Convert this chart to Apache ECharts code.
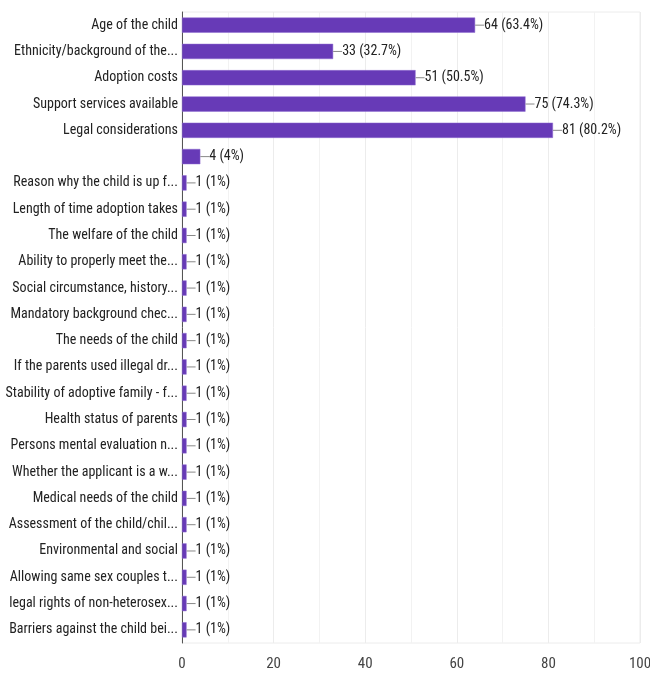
<!DOCTYPE html>
<html>
<head>
<meta charset="utf-8">
<script src="https://cdn.jsdelivr.net/npm/echarts@6/dist/echarts.min.js"></script>
<style>
  html, body { margin: 0; padding: 0; background: #fff; }
  #chart { width: 650px; height: 675px; }
</style>
</head>
<body>
<div id="chart"></div>
<script>
// Answer options, top to bottom
const categories = [
  'Age of the child',
  'Ethnicity/background of the...',
  'Adoption costs',
  'Support services available',
  'Legal considerations',
  '',
  'Reason why the child is up f...',
  'Length of time adoption takes',
  'The welfare of the child',
  'Ability to properly meet the...',
  'Social circumstance, history...',
  'Mandatory background chec...',
  'The needs of the child',
  'If the parents used illegal dr...',
  'Stability of adoptive family - f...',
  'Health status of parents',
  'Persons mental evaluation n...',
  'Whether the applicant is a w...',
  'Medical needs of the child',
  'Assessment of the child/chil...',
  'Environmental and social',
  'Allowing same sex couples t...',
  'legal rights of non-heterosex...',
  'Barriers against the child bei...'
];
// Number of responses per option
const counts = [64, 33, 51, 75, 81, 4, 1, 1, 1, 1, 1, 1, 1, 1, 1, 1, 1, 1, 1, 1, 1, 1, 1, 1];
// Share of respondents, as printed
const percents = ['63.4%', '32.7%', '50.5%', '74.3%', '80.2%', '4%', '1%', '1%', '1%', '1%', '1%', '1%', '1%', '1%', '1%', '1%', '1%', '1%', '1%', '1%', '1%', '1%', '1%', '1%'];
const xTicks = { min: 0, max: 100, step: 20 };

const FONT = '"Roboto Condensed", "Liberation Sans", Arial, sans-serif';

const chart = echarts.init(document.getElementById('chart'));
chart.setOption({
  animation: false,
  backgroundColor: '#fff',
  grid: {
    left: 182, right: 10, top: 12, bottom: 32,
    containLabel: false,
    outerBoundsMode: 'none',
    show: true, borderColor: '#ececec', borderWidth: 1
  },
  xAxis: {
    type: 'value',
    min: xTicks.min, max: xTicks.max, interval: xTicks.step,
    axisLine: { show: false },
    axisTick: { show: false },
    axisLabel: { color: '#444', fontFamily: FONT, fontSize: 15, margin: 14 },
    splitLine: { show: true, lineStyle: { color: '#ececec', width: 1 } },
    minorTick: { show: false, splitNumber: 2 },
    minorSplitLine: { show: true, lineStyle: { color: '#f2f2f2', width: 1 } }
  },
  yAxis: {
    type: 'category',
    data: categories,
    inverse: true,
    axisLine: { show: true, lineStyle: { color: '#555', width: 1 } },
    axisTick: { show: false },
    splitLine: { show: false },
    axisLabel: { color: '#222', fontFamily: FONT, fontSize: 14, margin: 4 }
  },
  series: [{
    type: 'bar',
    data: counts,
    barWidth: '58%',
    itemStyle: { color: '#673ab7', borderColor: '#8e6cd0', borderWidth: 0.5 },
    label: {
      show: true,
      position: 'right',
      distance: 0,
      fontFamily: FONT,
      fontSize: 14,
      color: '#222',
      formatter: p => '{ln|}' + p.value + ' (' + percents[p.dataIndex] + ')',
      rich: {
        ln: { width: 9, height: 1, backgroundColor: '#888', verticalAlign: 'middle' }
      }
    }
  }]
});
</script>
</body>
</html>
